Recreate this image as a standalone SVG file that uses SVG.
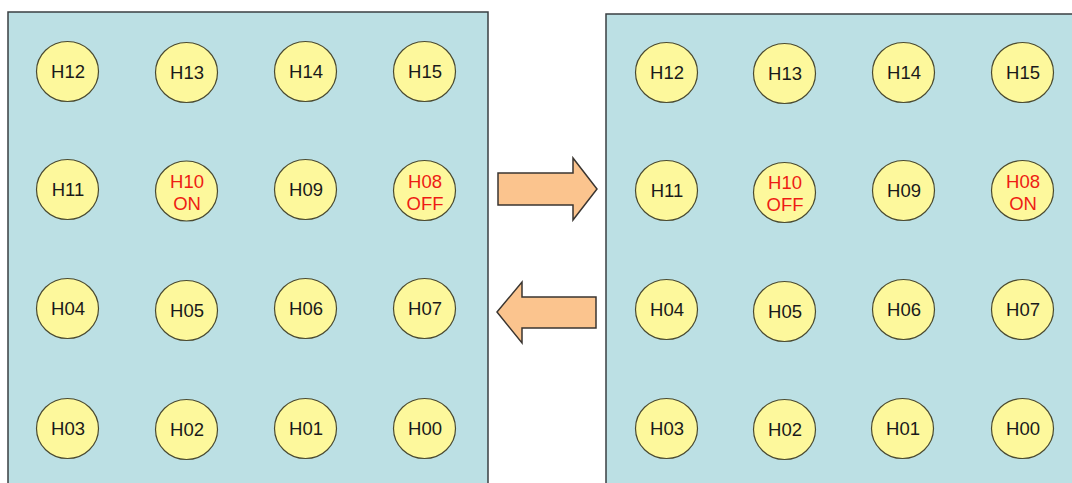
<svg xmlns="http://www.w3.org/2000/svg" width="1072" height="483" viewBox="0 0 1072 483">
<style>
.panel{fill:#BCE0E4;stroke:#3a3f42;stroke-width:1.5}
.node ellipse{fill:#FDF89C;stroke:#4a4a30;stroke-width:1.2}
.node text{font-family:"Liberation Sans",Arial,sans-serif;font-size:18.5px;text-anchor:middle;fill:#1a1a1a}
.node text.red{fill:#EE1C14}
.arrow{fill:#FBC48E;stroke:#3a3530;stroke-width:1.5;stroke-linejoin:miter}
</style>
<rect width="1072" height="483" fill="#ffffff"/>
<rect id="panel-left" class="panel" x="8" y="12" width="480" height="480"/>
<rect id="panel-right" class="panel" x="606" y="14" width="480" height="480"/>

<g id="left-nodes">
<g id="L-H12" class="node"><ellipse cx="67.5" cy="71.5" rx="31" ry="30"/><text x="68" y="78">H12</text></g>
<g id="L-H13" class="node"><ellipse cx="186.5" cy="72.5" rx="31" ry="30"/><text x="187" y="79">H13</text></g>
<g id="L-H14" class="node"><ellipse cx="305.5" cy="71.5" rx="31" ry="30"/><text x="306" y="78">H14</text></g>
<g id="L-H15" class="node"><ellipse cx="424.5" cy="71.5" rx="31" ry="30"/><text x="425" y="78">H15</text></g>
<g id="L-H11" class="node"><ellipse cx="67.5" cy="189.5" rx="31" ry="30"/><text x="68" y="196">H11</text></g>
<g id="L-H10" class="node"><ellipse cx="186.5" cy="191" rx="31" ry="30"/><text class="red" x="187" y="187.5">H10</text><text class="red" x="187" y="209.5">ON</text></g>
<g id="L-H09" class="node"><ellipse cx="305.5" cy="189.5" rx="31" ry="30"/><text x="306" y="196">H09</text></g>
<g id="L-H08" class="node"><ellipse cx="424.5" cy="190.5" rx="31" ry="30"/><text class="red" x="425" y="187.5">H08</text><text class="red" x="425" y="209.5">OFF</text></g>
<g id="L-H04" class="node"><ellipse cx="67.5" cy="308.5" rx="31" ry="30"/><text x="68" y="315">H04</text></g>
<g id="L-H05" class="node"><ellipse cx="186.5" cy="310.5" rx="31" ry="30"/><text x="187" y="317">H05</text></g>
<g id="L-H06" class="node"><ellipse cx="305.5" cy="308.5" rx="31" ry="30"/><text x="306" y="315">H06</text></g>
<g id="L-H07" class="node"><ellipse cx="424.5" cy="308.5" rx="31" ry="30"/><text x="425" y="315">H07</text></g>
<g id="L-H03" class="node"><ellipse cx="67.5" cy="428.5" rx="31" ry="30"/><text x="68" y="435">H03</text></g>
<g id="L-H02" class="node"><ellipse cx="186.5" cy="429.5" rx="31" ry="30"/><text x="187" y="436">H02</text></g>
<g id="L-H01" class="node"><ellipse cx="305.5" cy="428.5" rx="31" ry="30"/><text x="306" y="435">H01</text></g>
<g id="L-H00" class="node"><ellipse cx="424.5" cy="428.5" rx="31" ry="30"/><text x="425" y="435">H00</text></g>
</g>

<g id="right-nodes">
<g id="R-H12" class="node"><ellipse cx="666.5" cy="72.5" rx="31" ry="30"/><text x="667" y="79">H12</text></g>
<g id="R-H13" class="node"><ellipse cx="784.5" cy="73.5" rx="31" ry="30"/><text x="785" y="80">H13</text></g>
<g id="R-H14" class="node"><ellipse cx="903.5" cy="72.5" rx="31" ry="30"/><text x="904" y="79">H14</text></g>
<g id="R-H15" class="node"><ellipse cx="1022.5" cy="72.5" rx="31" ry="30"/><text x="1023" y="79">H15</text></g>
<g id="R-H11" class="node"><ellipse cx="666.5" cy="190.5" rx="31" ry="30"/><text x="667" y="197">H11</text></g>
<g id="R-H10" class="node"><ellipse cx="784.5" cy="192.5" rx="31" ry="30"/><text class="red" x="785" y="189">H10</text><text class="red" x="785" y="211">OFF</text></g>
<g id="R-H09" class="node"><ellipse cx="903.5" cy="190.5" rx="31" ry="30"/><text x="904" y="197">H09</text></g>
<g id="R-H08" class="node"><ellipse cx="1022.5" cy="190.5" rx="31" ry="30"/><text class="red" x="1023" y="187.5">H08</text><text class="red" x="1023" y="209.5">ON</text></g>
<g id="R-H04" class="node"><ellipse cx="666.5" cy="309.5" rx="31" ry="30"/><text x="667" y="316">H04</text></g>
<g id="R-H05" class="node"><ellipse cx="784.5" cy="311.5" rx="31" ry="30"/><text x="785" y="318">H05</text></g>
<g id="R-H06" class="node"><ellipse cx="903.5" cy="309.5" rx="31" ry="30"/><text x="904" y="316">H06</text></g>
<g id="R-H07" class="node"><ellipse cx="1022.5" cy="309.5" rx="31" ry="30"/><text x="1023" y="316">H07</text></g>
<g id="R-H03" class="node"><ellipse cx="666.5" cy="428.5" rx="31" ry="30"/><text x="667" y="435">H03</text></g>
<g id="R-H02" class="node"><ellipse cx="784.5" cy="429.5" rx="31" ry="30"/><text x="785" y="436">H02</text></g>
<g id="R-H01" class="node"><ellipse cx="902.5" cy="428.5" rx="31" ry="30"/><text x="903" y="435">H01</text></g>
<g id="R-H00" class="node"><ellipse cx="1022.5" cy="428.5" rx="31" ry="30"/><text x="1023" y="435">H00</text></g>
</g>

<g id="connectors">
<polygon id="arrow-right" class="arrow" points="498,173 573,173 573,158 597,189 573,220 573,205 498,205"/>
<polygon id="arrow-left" class="arrow" points="596,297 522,297 522,282 497,312 522,343 522,328 596,328"/>
</g>
</svg>
